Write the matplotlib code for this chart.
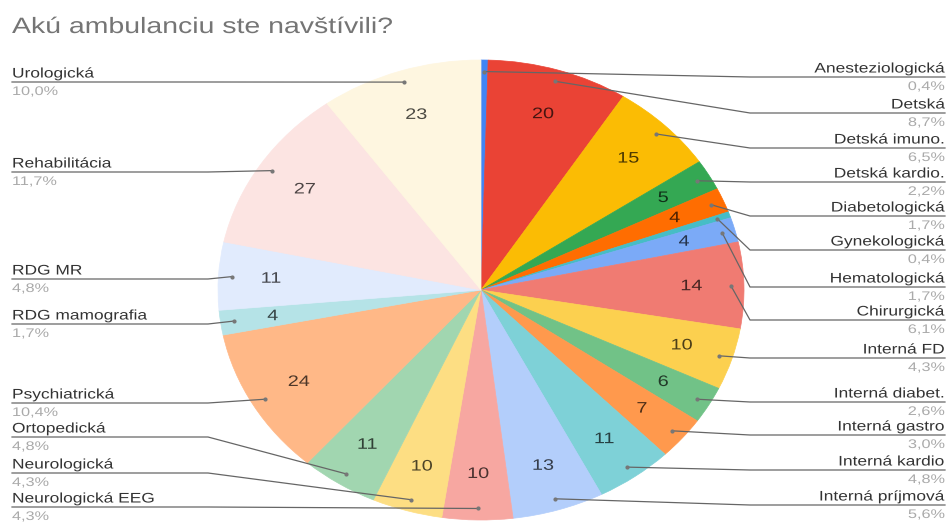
import numpy as np
import matplotlib.pyplot as plt
from matplotlib.colors import to_rgb
from matplotlib.patheffects import AbstractPathEffect
from matplotlib.transforms import Affine2D

plt.rcParams['font.family'] = ['Liberation Sans', 'DejaVu Sans']

title = 'Akú ambulanciu ste navštívili?'

# slices, clockwise from 12 o'clock
names = ['Anesteziologická', 'Detská', 'Detská imuno.', 'Detská kardio.',
         'Diabetologická', 'Gynekologická', 'Hematologická', 'Chirurgická',
         'Interná FD', 'Interná diabet.', 'Interná gastro', 'Interná kardio',
         'Interná príjmová', 'Neurologická EEG', 'Neurologická', 'Ortopedická',
         'Psychiatrická', 'RDG mamografia', 'RDG MR', 'Rehabilitácia', 'Urologická']
counts = [1, 20, 15, 5, 4, 1, 4, 14, 10, 6, 7, 11, 13, 10, 10, 11, 24, 4, 11, 27, 23]
colors = ['#4285F4', '#EA4335', '#FBBC04', '#34A853', '#FF6D01', '#46BDC6',
          '#7BAAF7', '#F07B72', '#FCD04F', '#71C287', '#FF994D', '#7ED1D7',
          '#B3CEFB', '#F7A7A1', '#FDDE83', '#A1D6B0', '#FFB887', '#B5E3E7',
          '#E1EBFD', '#FCE4E2', '#FEF6E0']

# y (pixels from top) of the horizontal part of each leader line
label_line_y = [77, 113, 148, 182, 216, 250, 287, 320, 358, 402, 435, 470, 505,
                507, 473, 437, 403, 324, 279, 172, 82]


class Widen(AbstractPathEffect):
    """Stretch text horizontally about display x0 (the reference is a stretched screenshot)."""
    def __init__(self, x0, sx=1.25):
        super().__init__()
        self.x0, self.sx = x0, sx

    def draw_path(self, renderer, gc, tpath, affine, rgbFace=None):
        stretch = Affine2D().translate(-self.x0, 0).scale(self.sx, 1).translate(self.x0, 0)
        renderer.draw_path(gc, tpath, affine + stretch, rgbFace)


W, H = 950, 523
fig = plt.figure(figsize=(W / 100, H / 100), dpi=100)

# pie is slightly stretched horizontally in the reference
cx, cy, rx, ry = 481, 290, 263, 230
ax = fig.add_axes([(cx - rx) / W, (H - cy - ry) / H, 2 * rx / W, 2 * ry / H])
wedges, _ = ax.pie(counts, colors=colors, startangle=90, counterclock=False)
for w in wedges:
    w.set_edgecolor(w.get_facecolor())
    w.set_linewidth(0.5)
ax.set_aspect('auto')
ax.set_xlim(-1, 1)
ax.set_ylim(-1, 1)

total = sum(counts)

# values inside the slices
for w, n, c in zip(wedges, counts, colors):
    if n < 4:
        continue
    a = np.deg2rad((w.theta1 + w.theta2) / 2)
    x, y = 0.8 * np.cos(a), 0.8 * np.sin(a)
    dark = tuple(v * 0.3 for v in to_rgb(c))
    ax.text(x, y, str(n), ha='center', va='center', fontsize=11, color=dark,
            path_effects=[Widen(ax.transData.transform((x, y))[0], 1.3)])

# overlay in pixel coordinates for labels and leader lines
ov = fig.add_axes([0, 0, 1, 1])
ov.set_xlim(0, W)
ov.set_ylim(H, 0)
ov.axis('off')

ov.text(12, 33, title, fontsize=16, color='#757575', va='baseline', ha='left',
        path_effects=[Widen(12, 1.28)])

for w, name, n, ly in zip(wedges, names, counts, label_line_y):
    a = np.deg2rad((w.theta1 + w.theta2) / 2)
    dx, dy = ax.transData.transform((0.95 * np.cos(a), 0.95 * np.sin(a)))
    px, py = dx, H - dy
    pct = f'{100 * n / total:.1f}%'.replace('.', ',')
    if np.cos(a) >= 0:
        x0, knee, ha = 945, 750, 'right'
    else:
        x0, knee, ha = 12, 208, 'left'
    ov.plot([x0, knee, px], [ly, ly, py], color='#666666', lw=0.9)
    ov.plot([px], [py], 'o', color='#777777', ms=2)
    ov.text(x0, ly - 4.5, name, ha=ha, va='baseline', fontsize=10, color='#333333',
            path_effects=[Widen(x0, 1.25)])
    ov.text(x0, ly + 13, pct, ha=ha, va='baseline', fontsize=9, color='#aaaaaa',
            path_effects=[Widen(x0, 1.3)])

fig.savefig('out.png', dpi=100)
